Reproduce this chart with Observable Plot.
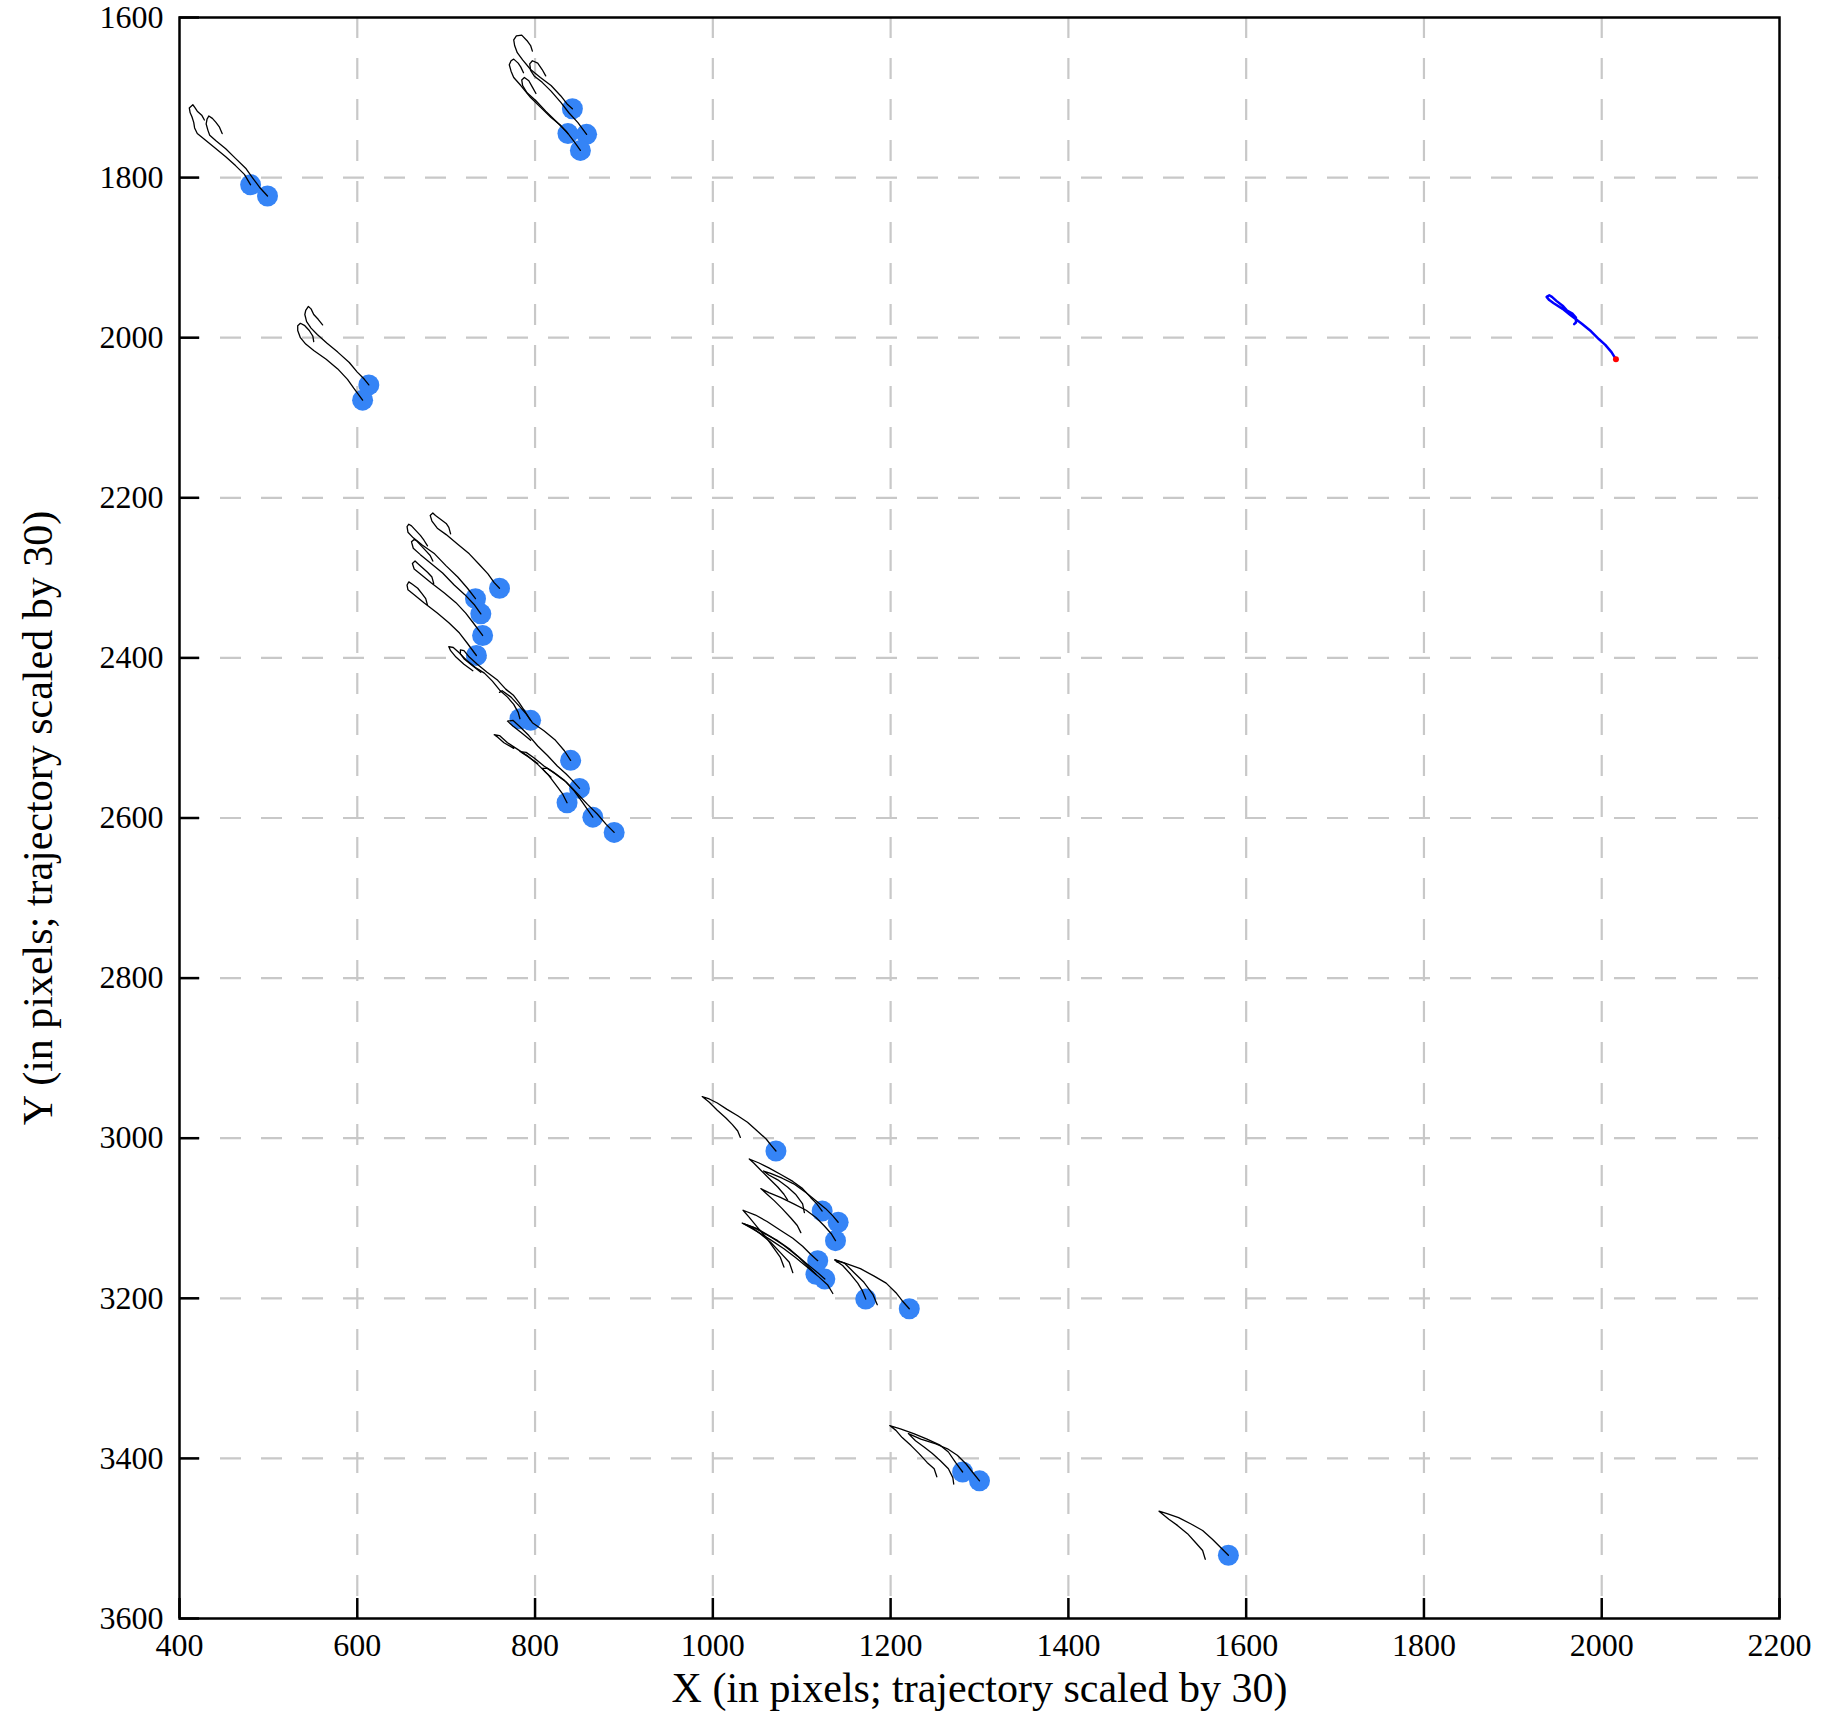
<!DOCTYPE html>
<html><head><meta charset="utf-8">
<script src="https://cdn.jsdelivr.net/npm/d3@7"></script>
<script src="https://cdn.jsdelivr.net/npm/@observablehq/plot@0.6"></script>
<style>html,body{margin:0;padding:0;background:#fff;overflow:hidden} svg{display:block}</style>
</head><body><div id="chart"></div>
<script>
const xTicks = [400,600,800,1000,1200,1400,1600,1800,2000,2200];
const yTicks = [1600,1800,2000,2200,2400,2600,2800,3000,3200,3400,3600];
const xLabel = "X (in pixels; trajectory scaled by 30)";
const yLabel = "Y (in pixels; trajectory scaled by 30)";

// current positions (blue dots)
const dotX = [480,499, 842,837,858,851, 613,606, 760,733,739,741,734, 783,795,840,850,836,865,889, 1071,1123,1141,1138,1118,1116,1126,1172,1221, 1281,1300, 1580];
const dotY = [1809,1823, 1714,1745,1746,1766, 2059,2078, 2313,2326,2345,2372,2397, 2476,2478,2528,2563,2581,2599,2618, 3016,3091,3105,3128,3153,3170,3176,3201,3213, 3417,3428, 3521];

// trajectories (scaled by 30), earliest point first, ending at the dot
const tracks = [
 [[428,1728],[425,1722],[420,1717],[417,1712],[415,1709],[411,1713],[412,1719],[414,1724],[416,1731],[417,1738],[420,1745],[429,1753],[439,1762],[452,1774],[463,1785],[473,1796],[480,1809]],
 [[448,1745],[445,1737],[441,1731],[437,1726],[433,1723],[431,1727],[430,1733],[432,1741],[434,1747],[441,1754],[452,1764],[463,1776],[475,1789],[482,1800],[490,1812],[499,1823]],
 [[797,1642],[795,1635],[791,1629],[785,1622],[779,1623],[776,1628],[777,1635],[780,1644],[786,1653],[795,1665],[806,1675],[818,1685],[829,1698],[836,1708],[842,1714]],
 [[787,1669],[784,1662],[781,1657],[776,1652],[773,1654],[771,1659],[773,1667],[776,1675],[784,1685],[795,1700],[806,1712],[818,1725],[829,1735],[837,1745]],
 [[812,1673],[808,1665],[803,1657],[797,1654],[794,1658],[795,1666],[799,1673],[808,1681],[818,1692],[829,1706],[838,1719],[848,1731],[858,1746]],
 [[801,1695],[797,1687],[793,1679],[788,1675],[785,1678],[786,1685],[791,1694],[801,1704],[812,1717],[823,1729],[835,1742],[844,1755],[851,1766]],
 [[561,1984],[556,1977],[551,1971],[548,1964],[545,1961],[542,1966],[541,1971],[543,1980],[548,1988],[555,1996],[566,2007],[578,2018],[591,2031],[600,2043],[608,2052],[613,2059]],
 [[551,2005],[550,1998],[546,1991],[541,1985],[536,1982],[533,1985],[533,1991],[536,2000],[542,2008],[551,2016],[565,2027],[578,2039],[589,2052],[596,2063],[606,2078]],
 [[705,2245],[703,2237],[700,2232],[694,2227],[688,2222],[685,2219],[682,2222],[684,2229],[690,2238],[700,2246],[713,2258],[726,2270],[737,2283],[747,2295],[754,2306],[760,2313]],
 [[679,2260],[675,2253],[671,2247],[666,2241],[661,2235],[658,2233],[656,2236],[657,2243],[663,2250],[673,2259],[687,2270],[700,2285],[713,2299],[724,2313],[733,2326]],
 [[685,2279],[682,2272],[677,2266],[672,2260],[667,2254],[664,2252],[661,2255],[663,2263],[671,2271],[683,2282],[696,2294],[709,2309],[721,2321],[732,2334],[739,2345]],
 [[686,2307],[684,2299],[679,2293],[673,2287],[668,2282],[665,2279],[662,2282],[664,2289],[672,2296],[683,2306],[698,2319],[711,2331],[722,2344],[731,2357],[741,2372]],
 [[679,2334],[677,2326],[673,2320],[668,2313],[662,2308],[658,2305],[656,2309],[657,2315],[664,2321],[675,2331],[690,2344],[703,2356],[715,2369],[724,2382],[734,2397]],
 [[730,2416],[720,2408],[711,2399],[705,2391],[703,2386],[708,2387],[715,2394],[724,2404],[733,2412],[743,2419],[752,2429],[760,2440],[769,2449],[776,2458],[781,2468],[783,2476]],
 [[739,2418],[730,2410],[720,2401],[716,2395],[716,2390],[720,2391],[726,2399],[735,2408],[746,2418],[758,2428],[767,2439],[776,2447],[782,2456],[788,2466],[795,2478]],
 [[760,2443],[763,2441],[773,2449],[782,2460],[790,2470],[797,2481],[810,2491],[823,2503],[833,2516],[840,2528]],
 [[795,2503],[784,2493],[775,2485],[769,2479],[775,2478],[783,2486],[793,2497],[803,2510],[814,2522],[825,2535],[835,2545],[842,2553],[850,2563]],
 [[776,2513],[765,2506],[758,2499],[754,2496],[760,2497],[769,2506],[780,2514],[791,2522],[803,2533],[814,2545],[823,2558],[831,2570],[836,2581]],
 [[803,2532],[793,2524],[786,2519],[783,2517],[790,2518],[799,2525],[810,2535],[821,2543],[833,2553],[844,2566],[853,2580],[865,2599]],
 [[818,2549],[812,2543],[808,2538],[814,2538],[823,2545],[835,2555],[848,2570],[859,2583],[870,2595],[880,2608],[889,2618]],
 [[1031,2999],[1028,2991],[1022,2983],[1015,2975],[1005,2965],[996,2955],[988,2948],[996,2951],[1005,2956],[1016,2964],[1028,2972],[1039,2980],[1050,2991],[1060,3001],[1065,3008],[1071,3016]],
 [[1084,3077],[1080,3070],[1073,3061],[1063,3050],[1054,3040],[1046,3031],[1041,3026],[1052,3031],[1063,3037],[1076,3045],[1090,3054],[1101,3063],[1110,3074],[1117,3082],[1123,3091]],
 [[1103,3093],[1101,3082],[1093,3070],[1084,3061],[1073,3052],[1063,3046],[1057,3041],[1065,3044],[1078,3050],[1091,3057],[1105,3068],[1116,3078],[1127,3088],[1135,3097],[1141,3105]],
 [[1099,3118],[1095,3109],[1088,3100],[1078,3088],[1069,3078],[1061,3070],[1054,3063],[1063,3068],[1076,3074],[1091,3082],[1105,3090],[1116,3099],[1125,3109],[1133,3119],[1138,3128]],
 [[1080,3161],[1076,3149],[1069,3138],[1060,3124],[1050,3111],[1041,3099],[1034,3090],[1048,3096],[1061,3104],[1076,3115],[1090,3125],[1101,3135],[1110,3145],[1118,3153]],
 [[1090,3168],[1086,3155],[1076,3143],[1065,3130],[1054,3120],[1043,3111],[1033,3106],[1045,3111],[1058,3119],[1073,3128],[1086,3138],[1097,3149],[1106,3159],[1116,3170]],
 [[1135,3194],[1129,3183],[1118,3172],[1106,3161],[1093,3149],[1080,3138],[1065,3127],[1052,3118],[1035,3107],[1050,3113],[1065,3123],[1080,3134],[1095,3147],[1108,3159],[1118,3168],[1126,3176]],
 [[1185,3208],[1180,3195],[1170,3180],[1159,3168],[1148,3156],[1137,3152],[1146,3159],[1155,3170],[1163,3181],[1168,3190],[1172,3201]],
 [[1140,3155],[1138,3152],[1151,3157],[1166,3163],[1181,3172],[1195,3181],[1206,3193],[1213,3203],[1221,3213]],
 [[1252,3423],[1249,3413],[1241,3405],[1232,3394],[1223,3384],[1213,3374],[1206,3365],[1199,3359],[1211,3363],[1226,3369],[1241,3376],[1255,3383],[1265,3392],[1273,3405],[1281,3417]],
 [[1271,3432],[1270,3424],[1265,3413],[1256,3403],[1247,3394],[1238,3386],[1228,3378],[1220,3369],[1234,3376],[1251,3382],[1264,3388],[1275,3396],[1285,3407],[1292,3417],[1300,3428]],
 [[1554,3526],[1551,3515],[1543,3505],[1534,3494],[1523,3484],[1513,3476],[1502,3466],[1511,3469],[1524,3474],[1538,3482],[1551,3490],[1562,3501],[1571,3511],[1580,3521]]
];

// highlighted trajectory (blue) and its current position (red)
const blueTrack = [[2016,2027],[2011,2018],[2004,2009],[1997,2002],[1988,1992],[1978,1983],[1971,1977],[1965,1972],[1956,1964],[1946,1957],[1941,1953],[1938,1949],[1941,1947],[1944,1949],[1949,1954],[1956,1960],[1961,1966],[1967,1970],[1971,1975],[1971,1981],[1969,1983]];
const redDot = [[2016,2027]];

const serif = "'Liberation Serif', 'Times New Roman', Times, serif";
const trackRows = tracks.flatMap((pts, i) => pts.map(([x, y]) => ({id: i, x, y})));
const dots = dotX.map((x, i) => ({x, y: dotY[i]}));

const chart = Plot.plot({
  width: 1825, height: 1719,
  marginLeft: 179, marginRight: 46, marginTop: 17, marginBottom: 101,
  style: {fontFamily: serif, fontSize: "32px", background: "white", color: "black"},
  x: {domain: [400, 2200]},
  y: {domain: [1600, 3600], reverse: true},
  marks: [
    Plot.gridX(xTicks.slice(1, -1), {stroke: "#c8c8c8", strokeOpacity: 1, strokeWidth: 2.2, strokeDasharray: "21,20"}),
    Plot.gridY(yTicks.slice(1, -1), {stroke: "#c8c8c8", strokeOpacity: 1, strokeWidth: 2.2, strokeDasharray: "21,20"}),
    Plot.dot(dots, {x: "x", y: "y", r: 10.5, fill: "#3584f6"}),
    Plot.line(trackRows, {x: "x", y: "y", z: "id", stroke: "black", strokeWidth: 1.3}),
    Plot.line(blueTrack, {x: d => d[0], y: d => d[1], stroke: "#0000ff", strokeWidth: 2.5}),
    Plot.dot(redDot, {x: d => d[0], y: d => d[1], r: 3, fill: "red"}),
    Plot.frame({stroke: "black", strokeWidth: 2.5}),
    Plot.axisX(xTicks, {tickSize: -20, tickPadding: 35, strokeWidth: 2.5, fontSize: 32, label: null, tickFormat: d => String(d)}),
    Plot.axisY(yTicks, {tickSize: -20, tickPadding: 36, strokeWidth: 2.5, fontSize: 32, label: null, tickFormat: d => String(d)}),
    Plot.text([xLabel], {text: d => d, frameAnchor: "bottom", lineAnchor: "middle", textAnchor: "middle", dy: 70, fontSize: 42}),
    Plot.text([yLabel], {text: d => d, frameAnchor: "left", lineAnchor: "middle", textAnchor: "middle", dx: -141, rotate: -90, fontSize: 42})
  ]
});
d3.select(chart).selectAll("g[aria-label='x-axis tick label'] text, g[aria-label='y-axis tick label'] text")
  .style("font-family", serif).style("font-size", "32px");
document.getElementById("chart").append(chart);
</script>
</body></html>
